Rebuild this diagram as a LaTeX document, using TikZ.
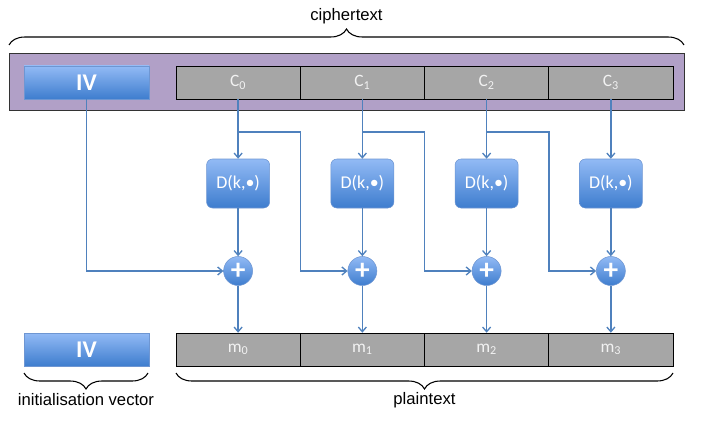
\documentclass[tikz,border=0pt]{standalone}
\usepackage{fontspec}
\setmainfont{Carlito}
\newfontfamily\labelfont{Liberation Sans}
\usepackage{tikz}
\usetikzlibrary{arrows.meta,positioning,calc,decorations.pathreplacing}

\definecolor{bgpurple}{RGB}{177,160,199}
\definecolor{cellgray}{RGB}{166,166,166}
\definecolor{celltext}{RGB}{242,242,242}
\definecolor{bluetop}{RGB}{146,186,245}
\definecolor{bluebot}{RGB}{62,125,206}
\definecolor{blueedge}{RGB}{110,150,210}
\definecolor{linkblue}{RGB}{79,129,189}

\begin{document}
\begin{tikzpicture}[x=0.75pt,y=-0.75pt,
  cell/.style={draw=black,fill=cellgray,minimum width=93.2pt,minimum height=24.75pt,
    inner sep=0pt,text=celltext,font=\fontsize{13}{14}\selectfont},
  blue box/.style={draw=blueedge,top color=bluetop,bottom color=bluebot,text=white},
  ivbox/.style={blue box,minimum width=93.75pt,minimum height=24.75pt,inner sep=0pt,
    font=\fontsize{18}{20}\selectfont\bfseries},
  decbox/.style={blue box,rounded corners=4.5pt,minimum width=47.25pt,minimum height=36.75pt,
    inner sep=0pt,font=\fontsize{13.5}{15}\selectfont},
  xorc/.style={blue box,circle,minimum size=21.75pt,inner sep=0pt,
    font=\fontsize{22}{22}\selectfont\bfseries},
  link/.style={draw=linkblue,line width=1pt},
  arr/.style={link,-{Straight Barb[length=3.5pt,width=6pt]}},
  lbl/.style={font=\labelfont\fontsize{12.5}{14}\selectfont},
  brc/.style={decorate,decoration={brace,amplitude=12pt},line width=0.8pt}
]
  \useasboundingbox (0,0) rectangle (705,424);

  % ciphertext row
  \filldraw[fill=bgpurple,draw=black!80] (9,53) rectangle (684,110);
  \node[ivbox] (ivtop) at (86.5,82.5) {IV};
  \foreach \i in {0,...,3}
    \node[cell] (c\i) at ({238.1+124.25*\i},82.5) {C\textsubscript{\i}};

  % plaintext row
  \node[ivbox] (ivbot) at (86.5,349.5) {IV};
  \foreach \i in {0,...,3}
    \node[cell] (m\i) at ({238.1+124.25*\i},349.5) {m\textsubscript{\i}};

  % decryption and xor
  \foreach \i in {0,...,3} {
    \node[decbox] (d\i) at ({238.1+124.25*\i},183.5) {D(k,\textbullet)};
    \node[xorc] (x\i) at ({238.1+124.25*\i},271) {+};
    \draw[arr] (c\i.south) -- (d\i.north);
    \draw[arr] (d\i.south) -- (x\i.north);
    \draw[arr] (x\i.south) -- (m\i.north);
  }

  % chaining
  \draw[arr] (ivtop.south) |- (x0.west);
  \foreach \i/\j in {0/1,1/2,2/3} {
    \coordinate (b\i) at (c\i.south |- 0,132);
    \draw[arr] (b\i) -| (c\i.south east |- x\j.west) -- (x\j.west);
  }

  % braces
  \draw[brc] (9,45) -- (684,45);
  \draw[brc,decoration={mirror}] (24,373) -- (148,373);
  \draw[brc,decoration={mirror}] (176,373) -- (673,373);

  % labels
  \node[lbl] (ct) at (346.5,16) {ciphertext};
  \node[lbl] (iv) at (86,400) {initialisation vector};
  \node[lbl] (pt) at (424.5,400) {plaintext};
\end{tikzpicture}
\end{document}
